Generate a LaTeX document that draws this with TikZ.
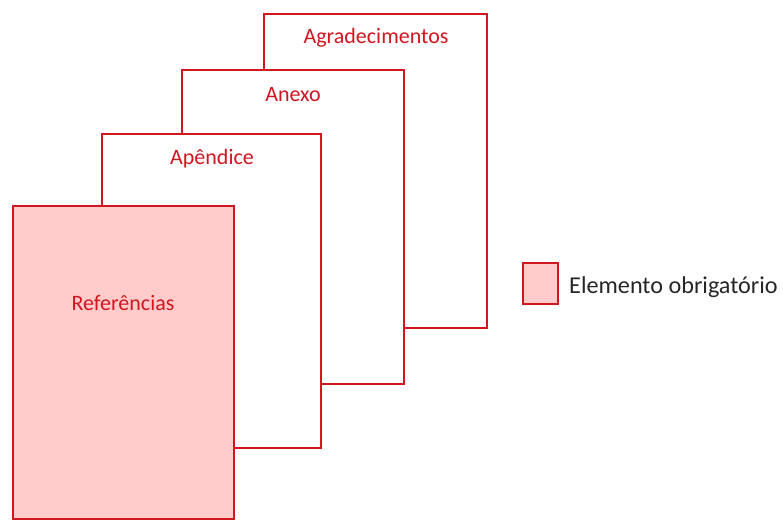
\documentclass[tikz,border=0pt]{standalone}
\usepackage{fontspec}
\setmainfont{Carlito}
\definecolor{pgred}{RGB}{210,22,32}
\definecolor{pgfill}{RGB}{255,203,203}
\definecolor{pgtext}{RGB}{38,38,38}
\begin{document}
\begin{tikzpicture}[x=1pt,y=-1pt,
  page/.style={draw=pgred,line width=2pt,fill=white,rectangle,inner sep=0pt},
  mandatory/.style={page,fill=pgfill},
  lbl/.style={text=pgred,font=\fontsize{22}{24}\selectfont,inner sep=0pt},
  legtext/.style={text=pgtext,font=\fontsize{24.2}{28}\selectfont,inner sep=0pt,anchor=west}]
\useasboundingbox (0,0) rectangle (783,520);
\node[page,minimum width=223pt,minimum height=314pt] (agr) at (375.5,171) {};
\node[lbl] (agrt) at (376,38) {Agradecimentos};
\node[page,minimum width=222pt,minimum height=314pt] (anx) at (293,227) {};
\node[lbl] (anxt) at (293,95) {Anexo};
\node[page,minimum width=219pt,minimum height=314pt] (apd) at (211.5,291) {};
\node[lbl] (apdt) at (212,159) {Apêndice};
\node[mandatory,minimum width=221pt,minimum height=313pt] (ref) at (123.5,362.5) {};
\node[lbl] (reft) at (123,303) {Referências};
\node[mandatory,minimum width=35pt,minimum height=41pt] (leg) at (540.5,283.5) {};
\node[legtext] (legt) at (569,287) {Elemento obrigatório};
\end{tikzpicture}
\end{document}
